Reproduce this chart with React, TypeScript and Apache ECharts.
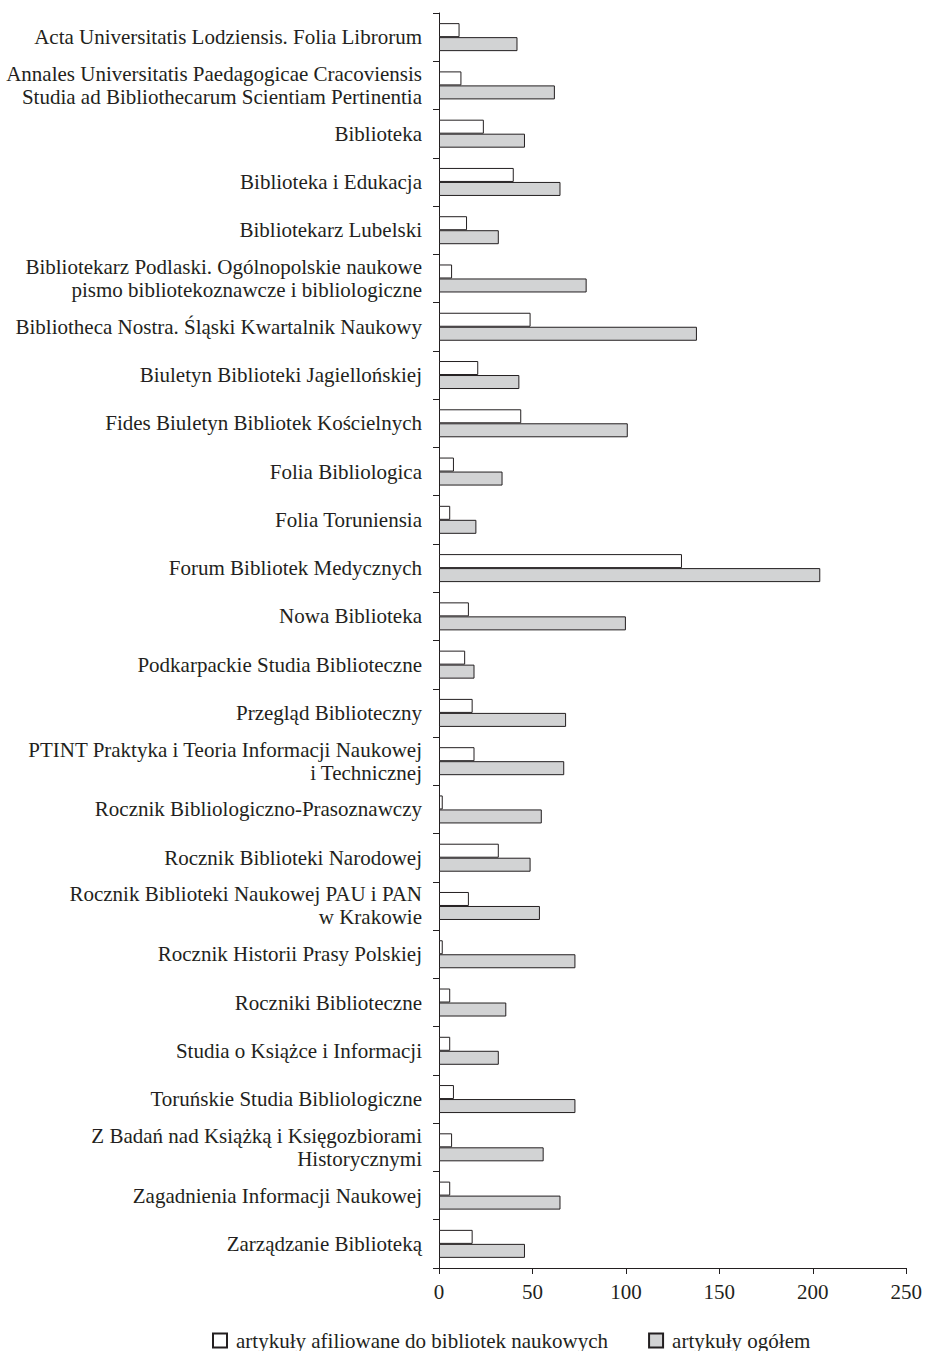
import React, { useEffect, useRef } from "react";
import * as echarts from "echarts";

const categories: string[] = [
  "Acta Universitatis Lodziensis. Folia Librorum",
  "Annales Universitatis Paedagogicae Cracoviensis\nStudia ad Bibliothecarum Scientiam Pertinentia",
  "Biblioteka",
  "Biblioteka i Edukacja",
  "Bibliotekarz Lubelski",
  "Bibliotekarz Podlaski. Ogólnopolskie naukowe\npismo bibliotekoznawcze i bibliologiczne",
  "Bibliotheca Nostra. Śląski Kwartalnik Naukowy",
  "Biuletyn Biblioteki Jagiellońskiej",
  "Fides Biuletyn Bibliotek Kościelnych",
  "Folia Bibliologica",
  "Folia Toruniensia",
  "Forum Bibliotek Medycznych",
  "Nowa Biblioteka",
  "Podkarpackie Studia Biblioteczne",
  "Przegląd Biblioteczny",
  "PTINT Praktyka i Teoria Informacji Naukowej\ni Technicznej",
  "Rocznik Bibliologiczno-Prasoznawczy",
  "Rocznik Biblioteki Narodowej",
  "Rocznik Biblioteki Naukowej PAU i PAN\nw Krakowie",
  "Rocznik Historii Prasy Polskiej",
  "Roczniki Biblioteczne",
  "Studia o Książce i Informacji",
  "Toruńskie Studia Bibliologiczne",
  "Z Badań nad Książką i Księgozbiorami\nHistorycznymi",
  "Zagadnienia Informacji Naukowej",
  "Zarządzanie Biblioteką",
];

const affiliated: number[] = [11, 12, 24, 40, 15, 7, 49, 21, 44, 8, 6, 130, 16, 14, 18, 19, 2, 32, 16, 2, 6, 6, 8, 7, 6, 18];
const total: number[] = [42, 62, 46, 65, 32, 79, 138, 43, 101, 34, 20, 204, 100, 19, 68, 67, 55, 49, 54, 73, 36, 32, 73, 56, 65, 46];

const seriesNames: string[] = ["artykuły afiliowane do bibliotek naukowych", "artykuły ogółem"];
const xTicks = { min: 0, max: 250, interval: 50 };

const FONT = "'Liberation Serif', 'DejaVu Serif', serif";
const INK = "#231f20";
const FS = 21;

export default function App() {
  const ref = useRef<HTMLDivElement>(null);
  useEffect(() => {
    if (!ref.current) return;
    const chart = echarts.init(ref.current, undefined, { renderer: "svg" });
    chart.setOption({
      animation: false,
      backgroundColor: "#ffffff",
      textStyle: { fontFamily: FONT, color: INK },
      grid: { left: 439, right: 16, top: 13, bottom: 83, containLabel: false },
      legend: {
        left: 212,
        top: 1330,
        padding: 0,
        itemWidth: 14,
        itemHeight: 14,
        itemGap: 40,
        icon: "rect",
        textStyle: { fontFamily: FONT, fontSize: FS, color: INK, lineHeight: 18, padding: [0, 0, 0, 4] },
        data: seriesNames,
      },
      xAxis: {
        type: "value",
        min: xTicks.min,
        max: xTicks.max,
        interval: xTicks.interval,
        axisLine: { show: true, lineStyle: { color: INK, width: 1 } },
        axisTick: { show: true, length: 6, lineStyle: { color: INK } },
        splitLine: { show: false },
        axisLabel: { fontFamily: FONT, fontSize: FS, color: INK, margin: 13 },
      },
      yAxis: {
        type: "category",
        inverse: true,
        data: categories,
        axisLine: { show: true, lineStyle: { color: INK, width: 1 } },
        axisTick: { show: true, length: 6, lineStyle: { color: INK } },
        axisLabel: { fontFamily: FONT, fontSize: FS, color: INK, margin: 17, lineHeight: 23, align: "right" },
      },
      series: [
        {
          name: seriesNames[0],
          type: "bar",
          data: affiliated,
          barWidth: 14,
          barGap: "0%",
          itemStyle: { color: "#ffffff", borderColor: INK, borderWidth: 1 },
        },
        {
          name: seriesNames[1],
          type: "bar",
          data: total,
          barWidth: 14,
          barGap: "0%",
          itemStyle: { color: "#d2d3d4", borderColor: INK, borderWidth: 1 },
        },
      ],
    });
    return () => chart.dispose();
  }, []);
  return <div ref={ref} style={{ width: 925, height: 1351, position: "absolute", left: 0, top: 0 }} />;
}
